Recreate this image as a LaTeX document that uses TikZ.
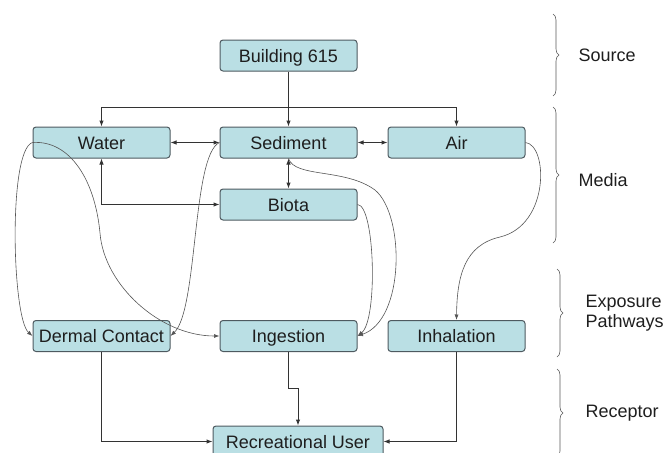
\documentclass[tikz,border=0pt]{standalone}
\usepackage{fontspec}
\setmainfont{Liberation Sans}
\usetikzlibrary{arrows.meta,positioning,decorations.pathreplacing}
\definecolor{BoxFill}{RGB}{186,223,228}
\definecolor{BoxLine}{RGB}{78,90,96}
\definecolor{TextDark}{RGB}{30,30,30}
\definecolor{CurveGray}{RGB}{85,85,85}

\begin{document}
\begin{tikzpicture}[x=1pt,y=-1pt,
    box/.style={draw=BoxLine, fill=BoxFill, rounded corners=3pt, line width=1pt,
      minimum width=137pt, minimum height=31pt, inner sep=0pt,
      text height=13pt, text depth=0pt,
      font=\fontsize{18}{21}\selectfont, text=TextDark},
    link/.style={line width=1pt, black!80, -{Latex[length=6pt,width=4.5pt]}},
    bilink/.style={link, {Latex[length=6pt,width=4.5pt]}-{Latex[length=6pt,width=4.5pt]}},
    flow/.style={line width=0.6pt, CurveGray, -{Latex[length=5.5pt,width=4pt]}},
    level/.style={decorate, decoration={brace, amplitude=6pt}, line width=0.6pt, black!65},
    tag/.style={anchor=west, align=left, font=\fontsize{18}{20}\selectfont, text=TextDark}]
  \useasboundingbox (0,0) rectangle (665,453);

  % source and media
  \node[box] (bldg) at (288.5,55.5) {Building 615};
  \node[box] (water) at (101.5,142.5) {Water};
  \node[box] (sed) at (288.5,142.5) {Sediment};
  \node[box] (air) at (456.5,142.5) {Air};
  \node[box] (biota) at (288.5,204.5) {Biota};
  % pathways and receptor
  \node[box] (dermal) at (101.5,336) {Dermal Contact};
  \node[box] (ingest) at (288.5,336) {Ingestion};
  \node[box] (inhale) at (456.5,336) {Inhalation};
  \node[box, minimum width=170pt] (user) at (298,441.5) {Recreational User};

  \coordinate (split) at (288.5,107);
  \draw[link] (bldg) -- (sed);
  \draw[link] (split) -| (water.north);
  \draw[link] (split) -| (air.north);
  \draw[bilink] (water) -- (sed);
  \draw[bilink] (sed) -- (air);
  \draw[bilink] (sed) -- (biota);
  \draw[bilink] (water.south) |- (biota.west);

  % curved transfers
  \draw[flow] (water.west) .. controls (8,150) and (12,318) .. (dermal.west);
  \draw[flow] (water.west) .. controls (70,140) and (95,180) .. (100,233)
    .. controls (104,285) and (160,336) .. (ingest.west);
  \draw[flow] (sed.west) .. controls (192,155) and (198,310) .. (dermal.east);
  \draw[flow] (sed.south) .. controls (295,178) and (345,168) .. (375,190)
    .. controls (405,215) and (405,320) .. (ingest.east);
  \draw[flow] (biota.east) .. controls (375,205) and (378,320) .. (ingest.east);
  \draw[flow] (air.east) .. controls (548,145) and (550,225) .. (500,237)
    .. controls (465,245) and (457,275) .. (inhale.north);

  \draw[link] (dermal.south) |- (user.west);
  \draw[link] (inhale.south) |- (user.east);
  \draw[link] (ingest.south) -- ++(0,36) -| (user.north);

  % levels
  \draw[level] (553,14) -- (553,96);
  \draw[level] (553,107) -- (553,243);
  \draw[level] (557,269) -- (557,357);
  \draw[level] (557,369) -- (557,457);
  \node[tag] (src) at (575,55) {Source};
  \node[tag] (media) at (575,180) {Media};
  \node[tag] (expo) at (582,313) {Exposure\\Pathways};
  \node[tag] (recep) at (582,413) {Receptor};
\end{tikzpicture}
\end{document}
